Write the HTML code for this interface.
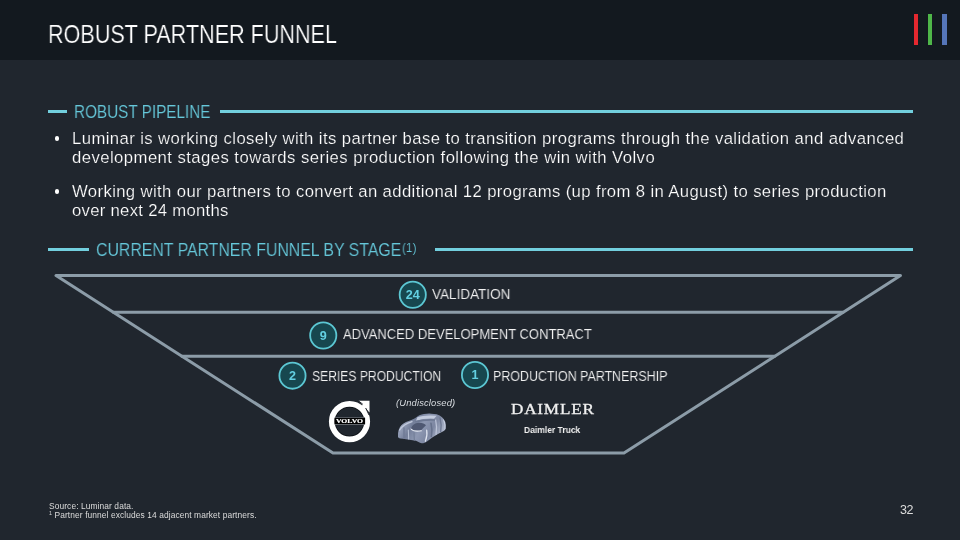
<!DOCTYPE html>
<html lang="en">
<head>
<meta charset="utf-8">
<title>Robust Partner Funnel</title>
<style>
  html, body { margin: 0; padding: 0; }
  body {
    width: 960px; height: 540px; overflow: hidden; position: relative;
    background: #20262e;
    font-family: "Liberation Sans", sans-serif;
    color: #ffffff;
  }
  .abs { position: absolute; white-space: nowrap; transform-origin: 0 0; line-height: 1; will-change: transform; }
  #hdr { position: absolute; left: 0; top: 0; width: 960px; height: 60.4px; background: #13191f; }
  .bar { position: absolute; top: 14px; height: 31px; width: 4.4px; }
  .teal { color: #66c8da; -webkit-text-stroke: 0.12px #20262e; }
  .rule { position: absolute; height: 3.2px; background: #72cfde; }
  .body { font-size: 16.7px; color: #ffffff; letter-spacing: 0.42px; -webkit-text-stroke: 0.2px #20262e; }
  .dot { position: absolute; width: 4.6px; height: 4.6px; border-radius: 50%; background: #fff; }
  .lbl { font-size: 14.2px; color: #f2f2f2; -webkit-text-stroke: 0.12px #20262e; }
  .foot { font-size: 8.4px; color: #dcdcdc; letter-spacing: 0.1px; }
</style>
</head>
<body>
  <div id="hdr"></div>
  <div id="title" class="abs" style="left:48.2px; top:22.2px; font-size:25.7px; transform:scaleX(0.84); -webkit-text-stroke:0.2px #13191f;">ROBUST PARTNER FUNNEL</div>
  <div class="bar" style="left:914px; background:#e5282f;"></div>
  <div class="bar" style="left:928px; background:#4fb649;"></div>
  <div class="bar" style="left:942.3px; width:4.7px; background:#5575b8;"></div>

  <!-- Section heading 1 -->
  <div class="rule" style="left:47.8px; top:110px; width:19px;"></div>
  <div id="h1" class="abs teal" style="left:73.6px; top:102.6px; font-size:18.2px; transform:scaleX(0.84);">ROBUST PIPELINE</div>
  <div class="rule" style="left:220px; top:110px; width:692.5px;"></div>

  <!-- Bullets -->
  <div class="dot" style="left:54.6px; top:136px;"></div>
  <div id="b1" class="abs body" style="left:72.1px; top:131.4px; letter-spacing:0.41px;">Luminar is working closely with its partner base to transition programs through the validation and advanced</div>
  <div id="b2" class="abs body" style="left:72px; top:150.3px; letter-spacing:0.44px;">development stages towards series production following the win with Volvo</div>
  <div class="dot" style="left:54.6px; top:189px;"></div>
  <div id="b3" class="abs body" style="left:72.3px; top:183.6px; letter-spacing:0.376px;">Working with our partners to convert an additional 12 programs (up from 8 in August) to series production</div>
  <div id="b4" class="abs body" style="left:72px; top:202.6px; letter-spacing:0.29px;">over next 24 months</div>

  <!-- Section heading 2 -->
  <div class="rule" style="left:47.8px; top:248.1px; width:41.5px;"></div>
  <div id="h2" class="abs teal" style="left:96.4px; top:240.8px; font-size:18.2px; transform:scaleX(0.8713);"><span id="h2m">CURRENT PARTNER FUNNEL BY STAGE</span><span style="font-size:13px; position:relative; top:-4.5px; margin-left:0.9px; letter-spacing:0.3px;">(1)</span></div>
  <div class="rule" style="left:435px; top:248.1px; width:477.5px;"></div>

  <!-- Funnel -->
  <svg id="funnel" class="abs" style="left:0; top:0;" width="960" height="540" viewBox="0 0 960 540">
    <g fill="none" stroke="#8c9ca8" stroke-width="3" stroke-linejoin="round" stroke-linecap="round">
      <path d="M56 275.6 L900.5 275.6 L624 453 L333 453 Z"/>
      <path d="M113.5 312.2 L843 312.2"/>
      <path d="M182 356.2 L774.5 356.2"/>
    </g>
    <g id="badges" font-family="'Liberation Sans', sans-serif" font-weight="bold" font-size="12.6" text-anchor="middle" fill="#63d0e2">
      <circle cx="412.75" cy="294.75" r="13.1" fill="#17474f" stroke="#5cc7d3" stroke-width="1.8"/>
      <text x="412.75" y="299.1">24</text>
      <circle cx="323.25" cy="335.5" r="13.1" fill="#17474f" stroke="#5cc7d3" stroke-width="1.8"/>
      <text x="323.25" y="339.9">9</text>
      <circle cx="292.5" cy="375.65" r="13.1" fill="#17474f" stroke="#5cc7d3" stroke-width="1.8"/>
      <text x="292.5" y="380.0">2</text>
      <circle cx="475" cy="375" r="13.1" fill="#17474f" stroke="#5cc7d3" stroke-width="1.8"/>
      <text x="475" y="379.4">1</text>
    </g>
  </svg>

  <div id="val" class="abs lbl" style="left:432.2px; top:287.1px; transform:scaleX(0.953);">VALIDATION</div>

  <div id="adv" class="abs lbl" style="left:343.3px; top:326.8px; transform:scaleX(0.9166);">ADVANCED DEVELOPMENT CONTRACT</div>

  <div id="ser" class="abs lbl" style="left:311.6px; top:368.6px; transform:scaleX(0.854);">SERIES PRODUCTION</div>

  <div id="pp" class="abs lbl" style="left:493.4px; top:368.5px; transform:scaleX(0.877);">PRODUCTION PARTNERSHIP</div>

  <!-- Logos -->
  <div id="und" class="abs" style="left:395.8px; top:398.0px; font-size:9.4px; font-style:italic; letter-spacing:0.15px; color:#d8dce0;">(Undisclosed)</div>
  <div id="dai" class="abs" style="left:510.6px; top:402px; font-family:'Liberation Serif', serif; font-size:15px; letter-spacing:0.7px; transform:scaleX(1.143); -webkit-text-stroke:0.3px #f0f0f0; color:#f0f0f0;">DAIMLER</div>
  <div id="dtr" class="abs" style="left:523.5px; top:424.7px; font-size:9.6px; font-weight:bold; transform:scaleX(0.887); color:#f0f0f0;">Daimler Truck</div>


  <!-- Volvo iron mark -->
  <svg id="volvo" class="abs" style="left:324px; top:396px;" width="52" height="50" viewBox="324 396 52 50">
    <path d="M358.6 400.7 L369.5 400.7 L369.5 412.6 Z" fill="#ffffff"/>
    <circle cx="349.5" cy="421.6" r="14.7" fill="none" stroke="#0b0e13" stroke-width="0.9"/>
    <circle cx="349.5" cy="421.6" r="17.75" fill="none" stroke="#ffffff" stroke-width="5.7"/>
    <path d="M359.0 401.3 L362.5 404.0 M366.0 408.5 L368.8 414.6" stroke="#1a1f26" stroke-width="0.95" fill="none" stroke-linecap="round"/>
    <path d="M362 408.6 L365.6 405" stroke="#ffffff" stroke-width="4.2" fill="none"/>
    <rect x="334.7" y="417.1" width="30.2" height="0.8" fill="#6c727a"/>
    <rect x="334.7" y="424.2" width="30.2" height="0.8" fill="#a9afb6"/>
    <rect x="334.5" y="417.9" width="30.6" height="6.4" fill="#000000"/>
    <text x="335.9" y="422.9" font-family="'Liberation Serif', serif" font-weight="bold" font-size="5.3" fill="#ffffff" stroke="#ffffff" stroke-width="0.15" textLength="27.2" lengthAdjust="spacingAndGlyphs">VOLVO</text>
  </svg>

  <!-- Draped concept car -->
  <svg id="car" class="abs" style="left:392px; top:408px;" width="60" height="40" viewBox="392 408 60 40">
    <defs>
      <linearGradient id="cg" x1="0" y1="0" x2="1" y2="0.35">
        <stop offset="0" stop-color="#8691ac"/>
        <stop offset="0.18" stop-color="#9ca6bf"/>
        <stop offset="0.38" stop-color="#737e99"/>
        <stop offset="0.58" stop-color="#8e98b2"/>
        <stop offset="0.8" stop-color="#7d87a2"/>
        <stop offset="1" stop-color="#a8b1c6"/>
      </linearGradient>
      <filter id="cb" x="-10%" y="-10%" width="120%" height="120%"><feGaussianBlur stdDeviation="11"/></filter>
      <filter id="cb2" x="-10%" y="-10%" width="120%" height="120%"><feGaussianBlur stdDeviation="5"/></filter>
      <clipPath id="cc"><path d="M60 400 Q58 340 70 300 Q85 255 110 230 Q140 200 180 180 L260 150 Q295 138 320 120 Q350 95 380 80 Q415 65 450 60 Q505 52 560 55 Q605 57 640 65 Q690 82 720 110 Q755 140 770 180 Q782 235 775 280 Q765 305 740 320 L660 360 L580 410 L500 470 Q470 492 440 500 Q412 500 390 490 L330 460 L230 445 L130 430 Q90 428 70 420 Z"/></clipPath>
    </defs>
    <g transform="translate(394 410) scale(0.066667)">
      <g filter="url(#cb2)">
        <path d="M60 400 Q58 340 70 300 Q85 255 110 230 Q140 200 180 180 L260 150 Q295 138 320 120 Q350 95 380 80 Q415 65 450 60 Q505 52 560 55 Q605 57 640 65 Q690 82 720 110 Q755 140 770 180 Q782 235 775 280 Q765 305 740 320 L660 360 L580 410 L500 470 Q470 492 440 500 Q412 500 390 490 L330 460 L230 445 L130 430 Q90 428 70 420 Z" fill="url(#cg)"/>
      </g>
      <g clip-path="url(#cc)"><g filter="url(#cb)" fill="none" stroke-linecap="round">
        <path d="M350 110 Q450 70 640 85 L600 130 Q470 120 330 160 Z" fill="#c3cbde" stroke="none"/>
        <path d="M330 175 Q450 140 610 150" stroke="#6d7893" stroke-width="26"/>
        <path d="M250 295 Q265 205 360 190 Q450 185 480 230 Q440 270 400 310 Q320 335 250 295 Z" fill="#4f5972" stroke="none"/>
        <path d="M255 285 Q290 330 410 312" stroke="#eef2fb" stroke-width="16"/>
        <path d="M85 300 Q140 215 270 175" stroke="#c2cadd" stroke-width="20"/>
        <path d="M150 270 L150 420" stroke="#707b96" stroke-width="22"/>
        <path d="M215 300 L220 440" stroke="#b7c0d4" stroke-width="16"/>
        <path d="M300 340 L305 455" stroke="#76819b" stroke-width="20"/>
        <path d="M490 300 Q505 380 470 470" stroke="#dfe4f0" stroke-width="18"/>
        <path d="M555 200 Q580 300 560 400" stroke="#66718c" stroke-width="24"/>
        <path d="M625 150 Q650 260 630 370" stroke="#bcc4d8" stroke-width="18"/>
        <path d="M690 120 Q720 230 700 330" stroke="#6c7791" stroke-width="20"/>
        <path d="M745 150 Q775 220 765 290" stroke="#c9d0e2" stroke-width="16"/>
      </g></g>
    </g>
  </svg>

  <!-- Footer -->
  <div id="f1" class="abs foot" style="left:48.5px; top:502px;">Source: Luminar data.</div>
  <div id="f2" class="abs foot" style="left:48.5px; top:511px;"><span style="font-size:5.4px; position:relative; top:-2.6px;">1</span> Partner funnel excludes 14 adjacent market partners.</div>
  <div id="pg" class="abs" style="left:899.6px; top:503.6px; font-size:12.5px; letter-spacing:-0.4px; color:#dddddd;">32</div>
</body>
</html>
